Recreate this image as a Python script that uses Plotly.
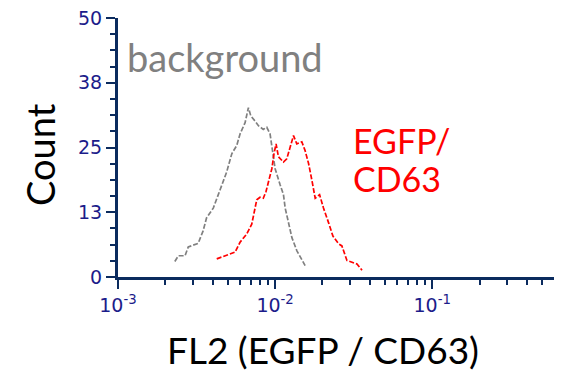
import plotly.graph_objects as go

# Background histogram (FL2 value, count)
bg_x = [0.00230, 0.00242, 0.00267, 0.00280, 0.00324, 0.00348, 0.00366, 0.00404,
        0.00446, 0.00492, 0.00530, 0.00570, 0.00598, 0.00644, 0.00676, 0.00700,
        0.00745, 0.00783, 0.00841, 0.00885, 0.00929, 0.00953, 0.01000, 0.01076,
        0.01130, 0.01159, 0.01216, 0.01279, 0.01374, 0.01552]
bg_y = [3.0, 4.1, 4.1, 5.8, 6.5, 8.9, 11.4, 13.3, 16.8, 20.3, 23.8, 25.4, 27.6,
        29.8, 32.7, 31.1, 30.1, 29.2, 28.5, 28.9, 27.6, 25.1, 20.9, 17.8, 15.9,
        13.3, 10.2, 7.6, 5.1, 2.2]

# EGFP/CD63 histogram (FL2 value, count)
cd_x = [0.00425, 0.00556, 0.00598, 0.00659, 0.00710, 0.00745, 0.00764, 0.00802,
        0.00841, 0.00875, 0.00906, 0.00953, 0.00984, 0.01014, 0.01050, 0.01130,
        0.01186, 0.01247, 0.01309, 0.01374, 0.01479, 0.01552, 0.01633, 0.01714,
        0.01799, 0.01919, 0.02032, 0.02188, 0.02333, 0.02535, 0.02661, 0.02864,
        0.03319, 0.03573]
cd_y = [3.5, 4.8, 6.7, 8.3, 10.2, 13.0, 14.9, 15.4, 15.2, 16.5, 18.4, 20.9, 23.8,
        25.7, 23.2, 22.2, 22.8, 25.1, 27.3, 25.7, 26.1, 24.4, 21.9, 18.7, 15.2,
        15.9, 13.3, 10.5, 7.9, 6.4, 6.0, 3.2, 2.5, 1.3]

y_tickvals = [0, 12.5, 25, 37.5, 50]
y_ticktext = ["0", "13", "25", "38", "50"]
x_tickvals = [0.001, 0.01, 0.1]
x_ticktext = ["10<sup>-3</sup>", "10<sup>-2</sup>", "10<sup>-1</sup>"]

AXIS = "#0b2b5e"
TICKFONT = dict(family="DejaVu Sans", size=19, color="#1c1c8a")
TXT = "Lato"

fig = go.Figure()
fig.add_trace(go.Scatter(x=bg_x, y=bg_y, mode="lines",
                         line=dict(color="#808080", width=1.7, dash="5px,2px"),
                         showlegend=False))
fig.add_trace(go.Scatter(x=cd_x, y=cd_y, mode="lines",
                         line=dict(color="#ff0000", width=1.7, dash="5px,2px"),
                         showlegend=False))

fig.update_layout(
    width=561, height=371,
    margin=dict(l=118, r=7, t=14, b=94),
    paper_bgcolor="white", plot_bgcolor="white",
    xaxis=dict(type="log", range=[-3, -0.225], tickvals=x_tickvals, ticktext=x_ticktext,
               showgrid=False, zeroline=False, showline=True, linewidth=3, linecolor=AXIS,
               ticks="outside", ticklen=9, tickwidth=2, tickcolor=AXIS,
               tickfont=TICKFONT,
               minor=dict(ticks="outside", ticklen=5, tickwidth=2, tickcolor=AXIS,
                          dtick="D1", showgrid=False)),
    yaxis=dict(range=[0, 50], tickvals=y_tickvals, ticktext=y_ticktext,
               showgrid=False, zeroline=False, showline=True, linewidth=3, linecolor=AXIS,
               ticks="outside", ticklen=9, tickwidth=2, tickcolor=AXIS,
               tickfont=TICKFONT,
               minor=dict(ticks="outside", ticklen=5, tickwidth=2, tickcolor=AXIS,
                          dtick=3.125, showgrid=False)),
    annotations=[
        dict(text="background", xref="paper", yref="paper", x=0.015, y=0.848,
             xanchor="left", yanchor="middle", showarrow=False,
             font=dict(family=TXT, size=38, color="#808080")),
        dict(text="EGFP/", xref="paper", yref="paper", x=0.535, y=0.527,
             xanchor="left", yanchor="middle", showarrow=False,
             font=dict(family=TXT, size=34, color="#ff0000")),
        dict(text="CD63", xref="paper", yref="paper", x=0.535, y=0.379,
             xanchor="left", yanchor="middle", showarrow=False,
             font=dict(family=TXT, size=34, color="#ff0000")),
        dict(text="Count", xref="paper", yref="paper", x=-0.179, y=0.475,
             xanchor="center", yanchor="middle", textangle=-90, showarrow=False,
             font=dict(family=TXT, size=38, color="black")),
        dict(text="FL2 (EGFP / CD63)", xref="paper", yref="paper", x=0.47, y=-0.279,
             xanchor="center", yanchor="middle", showarrow=False,
             font=dict(family=TXT, size=37, color="black")),
    ],
)

fig.write_html("out.html", config={"displayModeBar": False},
               post_script="document.body.style.margin='0';document.body.style.overflow='hidden';")
